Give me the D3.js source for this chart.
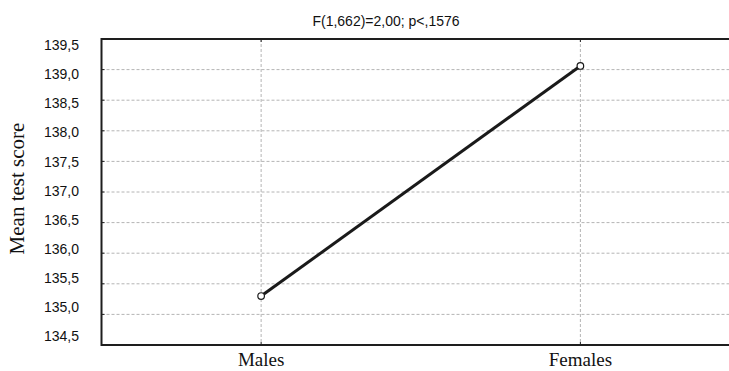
<!DOCTYPE html>
<html>
<head>
<meta charset="utf-8">
<script src="https://cdn.jsdelivr.net/npm/d3@7"></script>
<style>
  html, body { margin: 0; padding: 0; background: #fff; }
  svg { display: block; }
</style>
</head>
<body>
<svg id="chart" width="729" height="371"></svg>
<script>
const categories = ["Males", "Females"];
const meanScores = [135.30, 139.06];
const yTickValues = [134.5, 135.0, 135.5, 136.0, 136.5, 137.0, 137.5, 138.0, 138.5, 139.0, 139.5];
const titleText = "F(1,662)=2,00; p<,1576";
const yTitle = "Mean test score";

(function () {
const svg = d3.select("#chart");
const pLeft = 101.5, pRight = 740, pTop = 39, pBottom = 345;

const x = d3.scalePoint().domain(categories).range([pLeft, pRight]).padding(0.5);
const y = d3.scaleLinear().domain([134.5, 139.5]).range([pBottom, pTop]);
// tick label placement (slightly inset from frame as in the reference)
const yLab = d3.scaleLinear().domain([134.5, 139.5]).range([335.8, 45.5]);

const fmt = v => d3.format(".1f")(v).replace(".", ",");
const inner = yTickValues.filter(v => v > 134.5 && v < 139.5);

// horizontal grid
svg.append("g").selectAll("line")
  .data(inner)
  .join("line")
  .attr("x1", pLeft).attr("x2", pRight)
  .attr("y1", d => y(d)).attr("y2", d => y(d))
  .attr("stroke", "#b4b4b4").attr("stroke-width", 1)
  .attr("stroke-dasharray", "3,2");

// vertical grid
svg.append("g").selectAll("line")
  .data(categories)
  .join("line")
  .attr("x1", d => x(d)).attr("x2", d => x(d))
  .attr("y1", pTop).attr("y2", pBottom)
  .attr("stroke", "#b4b4b4").attr("stroke-width", 1)
  .attr("stroke-dasharray", "3,2");

// inward ticks on left
svg.append("g").selectAll("line")
  .data(inner)
  .join("line")
  .attr("x1", pLeft).attr("x2", pLeft + 3)
  .attr("y1", d => y(d)).attr("y2", d => y(d))
  .attr("stroke", "#222").attr("stroke-width", 1);

// inward ticks top and bottom
svg.append("g").selectAll("line")
  .data(categories)
  .join("line")
  .attr("x1", d => x(d)).attr("x2", d => x(d))
  .attr("y1", pBottom - 3).attr("y2", pBottom)
  .attr("stroke", "#222").attr("stroke-width", 1);
svg.append("g").selectAll("line")
  .data(categories)
  .join("line")
  .attr("x1", d => x(d)).attr("x2", d => x(d))
  .attr("y1", pTop).attr("y2", pTop + 3)
  .attr("stroke", "#222").attr("stroke-width", 1);

// frame
svg.append("path")
  .attr("d", `M${pRight},${pTop}H${pLeft}V${pBottom}H${pRight}`)
  .attr("fill", "none").attr("stroke", "#1e1e1e").attr("stroke-width", 2);

// y tick labels
svg.append("g").selectAll("text")
  .data(yTickValues)
  .join("text")
  .attr("x", 79).attr("y", d => yLab(d))
  .attr("dy", "0.35em")
  .attr("text-anchor", "end")
  .attr("font-family", "Liberation Sans, Arial, sans-serif")
  .attr("font-size", 14)
  .attr("fill", "#111")
  .text(fmt);

// x labels
svg.append("g").selectAll("text")
  .data(categories)
  .join("text")
  .attr("x", d => x(d)).attr("y", 366)
  .attr("text-anchor", "middle")
  .attr("font-family", "Liberation Serif, Times New Roman, serif")
  .attr("font-size", 19)
  .attr("fill", "#111")
  .text(d => d);

// y title
svg.append("text")
  .attr("transform", "translate(24,188.5) rotate(-90)")
  .attr("text-anchor", "middle")
  .attr("font-family", "Liberation Serif, Times New Roman, serif")
  .attr("font-size", 21)
  .attr("fill", "#111")
  .text(yTitle);

// title
svg.append("text")
  .attr("x", 386).attr("y", 26)
  .attr("text-anchor", "middle")
  .attr("font-family", "Liberation Sans, Arial, sans-serif")
  .attr("font-size", 14)
  .attr("fill", "#111")
  .text(titleText);

// line
const pts = categories.map((c, i) => [x(c), y(meanScores[i])]);
svg.append("path")
  .attr("d", d3.line()(pts))
  .attr("fill", "none").attr("stroke", "#1a1a1a").attr("stroke-width", 3);

svg.append("g").selectAll("circle")
  .data(pts)
  .join("circle")
  .attr("cx", d => d[0]).attr("cy", d => d[1]).attr("r", 3.3)
  .attr("fill", "#fff").attr("stroke", "#1a1a1a").attr("stroke-width", 1.2);
})();
</script>
</body>
</html>
